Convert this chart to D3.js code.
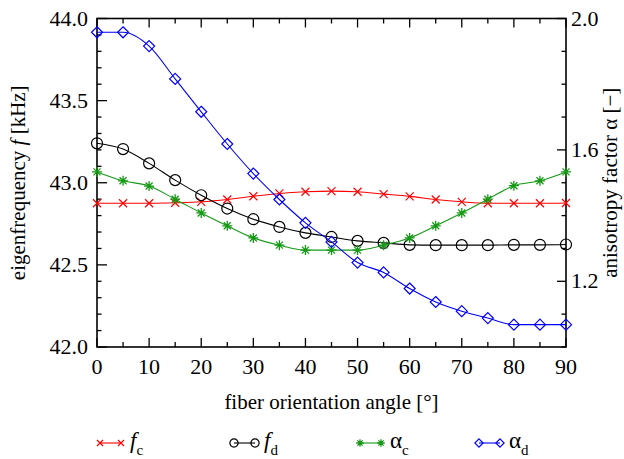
<!DOCTYPE html>
<head>
  <meta charset="utf-8">
  <script src="https://d3js.org/d3.v7.min.js"></script>
  <style>
    body { margin: 0; background: #fff; }
    .line { fill: none; stroke-width: 1.1px; }
    .frame { fill: none; stroke: #000; stroke-width: 1.6px; }
    .tick { stroke: #000; stroke-width: 1.3px; }
  </style>
</head>
<body>
  <svg width="624" height="459" font-family="'Liberation Serif', 'DejaVu Serif', serif"></svg>
  <script>
    var angles = [0, 5, 10, 15, 20, 25, 30, 35, 40, 45, 50, 55, 60, 65, 70, 75, 80, 85, 90];
    var fc = [42.875, 42.875, 42.875, 42.878, 42.884, 42.898, 42.918, 42.935, 42.945, 42.949,
              42.945, 42.931, 42.917, 42.898, 42.884, 42.875, 42.875, 42.875, 42.877];
    var fd = [43.24, 43.205, 43.118, 43.016, 42.924, 42.843, 42.778, 42.731, 42.695, 42.670,
              42.646, 42.634, 42.622, 42.620, 42.620, 42.620, 42.622, 42.622, 42.624];
    var alphaC = [1.533, 1.506, 1.490, 1.450, 1.408, 1.369, 1.332, 1.310, 1.295, 1.295,
                  1.295, 1.310, 1.332, 1.369, 1.408, 1.450, 1.491, 1.506, 1.533];
    var alphaD = [1.958, 1.958, 1.916, 1.816, 1.716, 1.618, 1.528, 1.449, 1.378, 1.320,
                  1.257, 1.227, 1.178, 1.137, 1.109, 1.088, 1.068, 1.068, 1.068];
    var xTickLabels = [0, 10, 20, 30, 40, 50, 60, 70, 80, 90];
    var yLeftLabels = [42.0, 42.5, 43.0, 43.5, 44.0];
    var yRightLabels = [1.2, 1.6, 2.0];

    var svg = d3.select("svg");
    var margin = { top: 18.5, right: 58, bottom: 112, left: 97 };
    var width = 624 - margin.left - margin.right;
    var height = 459 - margin.top - margin.bottom;

    var x = d3.scaleLinear().domain([0, 90]).range([0, width]);
    var yL = d3.scaleLinear().domain([42, 44]).range([height, 0]);
    var yR = d3.scaleLinear().domain([1, 2]).range([height, 0]);

    var g = svg.append("g")
      .attr("transform", "translate(" + margin.left + "," + margin.top + ")");

    // ticks (inward, all four sides)
    var ticks = g.append("g");
    d3.range(0, 91, 5).forEach(function (t) {
      var len = t % 10 === 0 ? 9 : 5;
      ticks.append("line").attr("class", "tick")
        .attr("x1", x(t)).attr("x2", x(t)).attr("y1", height).attr("y2", height - len);
      ticks.append("line").attr("class", "tick")
        .attr("x1", x(t)).attr("x2", x(t)).attr("y1", 0).attr("y2", len);
    });
    d3.range(0, 21).forEach(function (i) {
      var v = 42 + i * 0.1;
      var len = i % 5 === 0 ? 10 : 4.5;
      ticks.append("line").attr("class", "tick")
        .attr("x1", 0).attr("x2", len).attr("y1", yL(v)).attr("y2", yL(v));
    });
    d3.range(0, 11).forEach(function (i) {
      var v = 1 + i * 0.1;
      var len = (i % 4 === 2) ? 9 : 4.5;
      ticks.append("line").attr("class", "tick")
        .attr("x1", width).attr("x2", width - len).attr("y1", yR(v)).attr("y2", yR(v));
    });

    g.append("rect").attr("class", "frame")
      .attr("width", width).attr("height", height);

    // tick labels
    g.selectAll(".xl").data(xTickLabels).enter().append("text")
      .attr("x", function (d) { return x(d); })
      .attr("y", height + 27)
      .attr("text-anchor", "middle")
      .style("font-size", "22px")
      .text(function (d) { return d; });
    g.selectAll(".yl").data(yLeftLabels).enter().append("text")
      .attr("x", -9)
      .attr("y", function (d) { return yL(d) + 7; })
      .attr("text-anchor", "end")
      .style("font-size", "22px")
      .text(function (d) { return d.toFixed(1); });
    g.selectAll(".yr").data(yRightLabels).enter().append("text")
      .attr("x", width + 5)
      .attr("y", function (d) { return yR(d) + 7; })
      .attr("text-anchor", "start")
      .style("font-size", "22px")
      .text(function (d) { return d.toFixed(1); });

    // axis titles
    g.append("text")
      .attr("x", width / 2).attr("y", height + 62)
      .attr("text-anchor", "middle")
      .style("font-size", "21px")
      .text("fiber orientation angle [°]");
    var lt = g.append("text")
      .attr("transform", "translate(-72," + (height / 2) + ") rotate(-90)")
      .attr("text-anchor", "middle")
      .style("font-size", "21px");
    lt.append("tspan").text("eigenfrequency ");
    lt.append("tspan").style("font-style", "italic").text("f");
    lt.append("tspan").text(" [kHz]");
    g.append("text")
      .attr("transform", "translate(" + (width + 51) + "," + (height / 2) + ") rotate(-90)")
      .attr("text-anchor", "middle")
      .style("font-size", "21px")
      .text("anisotropy factor α [−]");

    // markers
    function marker(sel, type, color, k) {
      k = k || 1;
      if (type === "x") {
        sel.append("path").attr("d", "M-4,-4L4,4M-4,4L4,-4")
          .attr("transform", "scale(" + k + ")")
          .attr("stroke", color).attr("stroke-width", 1.2 / k).attr("fill", "none");
      } else if (type === "o") {
        sel.append("circle").attr("r", 5.5 * k)
          .attr("stroke", color).attr("stroke-width", 1.2).attr("fill", "none");
      } else if (type === "*") {
        sel.append("path").attr("d", "M-5,0L5,0M0,-5L0,5M-3.5,-3.5L3.5,3.5M-3.5,3.5L3.5,-3.5")
          .attr("transform", "scale(" + k + ")")
          .attr("stroke", color).attr("stroke-width", 1.3 / k).attr("fill", "none");
      } else {
        sel.append("path").attr("d", "M0,-5.5L5.5,0L0,5.5L-5.5,0Z")
          .attr("transform", "scale(" + k + ")")
          .attr("stroke", color).attr("stroke-width", 1.2 / k).attr("fill", "none");
      }
    }

    var series = [
      { vals: fc, y: yL, color: "#ff0000", m: "x" },
      { vals: fd, y: yL, color: "#000000", m: "o" },
      { vals: alphaC, y: yR, color: "#159915", m: "*" },
      { vals: alphaD, y: yR, color: "#0000ff", m: "d" }
    ];

    series.forEach(function (s) {
      var pts = angles.map(function (a, i) { return [a, s.vals[i]]; });
      var line = d3.line()
        .curve(d3.curveMonotoneX)
        .x(function (d) { return x(d[0]); })
        .y(function (d) { return s.y(d[1]); });
      g.append("path").datum(pts).attr("class", "line")
        .attr("stroke", s.color).attr("d", line);
      g.selectAll(null).data(pts).enter().append("g")
        .attr("transform", function (d) { return "translate(" + x(d[0]) + "," + s.y(d[1]) + ")"; })
        .each(function () { marker(d3.select(this), s.m, s.color); });
    });

    // legend
    var legend = [
      { x0: 100, m: "x", color: "#ff0000", sym: "f", it: true, sub: "c" },
      { x0: 234, m: "o", color: "#000000", sym: "f", it: true, sub: "d" },
      { x0: 360, m: "*", color: "#159915", sym: "α", it: false, sub: "c" },
      { x0: 479, m: "d", color: "#0000ff", sym: "α", it: false, sub: "d" }
    ];
    var ly = 443;
    legend.forEach(function (l) {
      var lg = svg.append("g");
      lg.append("line").attr("x1", l.x0).attr("x2", l.x0 + 21)
        .attr("y1", ly).attr("y2", ly)
        .attr("stroke", l.color).attr("stroke-width", 1.1);
      marker(lg.append("g").attr("transform", "translate(" + l.x0 + "," + ly + ")"), l.m, l.color, 0.75);
      marker(lg.append("g").attr("transform", "translate(" + (l.x0 + 21) + "," + ly + ")"), l.m, l.color, 0.75);
      var t = lg.append("text").attr("x", l.x0 + 30).attr("y", ly + 5)
        .style("font-size", "23px");
      t.append("tspan").style("font-style", l.it ? "italic" : "normal").text(l.sym);
      t.append("tspan").attr("dy", 7).style("font-size", "15px").text(l.sub);
    });
  </script>
</body>
